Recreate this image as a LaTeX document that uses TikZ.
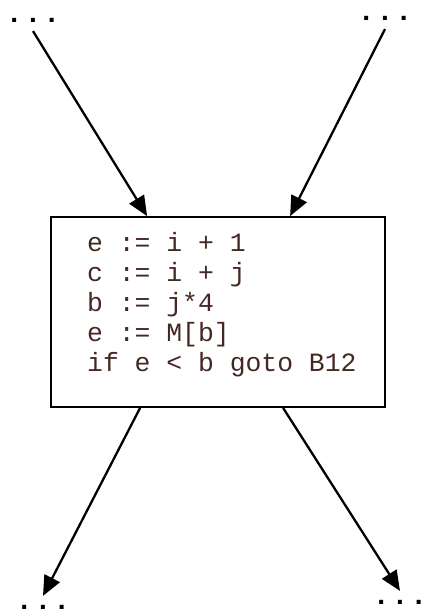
\documentclass[tikz,border=0pt]{standalone}
\usepackage{fontspec}
\setmonofont{Liberation Mono}
\newfontfamily\dotfont{Liberation Sans}
\usepackage{xcolor}
\usetikzlibrary{arrows.meta}
\definecolor{codecol}{RGB}{70,40,35}
\newcommand{\threedots}{.\kern11pt.\kern11pt.}

\begin{document}
\begin{tikzpicture}[x=1pt,y=-1pt,>={Triangle[length=20pt,width=17pt]},
  flow/.style={->,line width=2.3pt},
  dots/.style={font=\dotfont\bfseries\fontsize{28}{28}\selectfont,inner sep=0pt,outer sep=9pt}]
\useasboundingbox (0,0) rectangle (424,614);
% basic block
\node[draw,line width=1.8pt,minimum width=334pt,minimum height=190pt,inner sep=0pt] (blk) at (218,312) {};
\node[anchor=north west,inner sep=0pt,align=left,text=codecol,
  font=\ttfamily\fontsize{26.4}{30}\selectfont] (code) at (87,232)
  {e := i + 1\\c := i + j\\b := j*4\\e := M[b]\\if e < b goto B12};
% predecessors and successors
\node[dots] (tl) at (33,20) {\threedots};
\node[dots] (tr) at (385,18) {\threedots};
\node[dots] (bl) at (43,607) {\threedots};
\node[dots] (br) at (400,602) {\threedots};
\draw[flow] (tl.south) -- ([xshift=97pt]blk.north west);
\draw[flow] (tr.south) -- ([xshift=240pt]blk.north west);
\draw[flow] ([xshift=90pt]blk.south west) -- (bl.north);
\draw[flow] ([xshift=233pt]blk.south west) -- (br.north);
\end{tikzpicture}
\end{document}
